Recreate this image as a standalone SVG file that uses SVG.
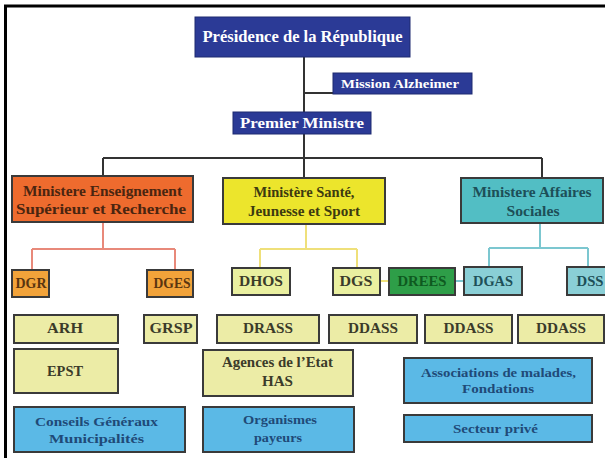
<svg xmlns="http://www.w3.org/2000/svg" width="605" height="458" viewBox="0 0 605 458">
<style>
text{font-family:"Liberation Serif","Times New Roman",serif;font-weight:bold;text-anchor:middle}
.b{stroke:#3a3a3a;stroke-width:2}
.blue{fill:#2B3A96;stroke:#1e2a70;stroke-width:1}
.w{fill:#fff}
.t{font-size:14px}
.s{font-size:14px}
.m{font-size:13.5px}
.kh{fill:#ECECA6}
.sky{fill:#5BB9E6}
.dk{fill:#3b3b2a}
.bt{fill:#1f4a78}
.c{fill:none}
</style>
<rect width="605" height="458" fill="#fff"/>
<rect x="5.5" y="6" width="700" height="600" fill="none" stroke="#000" stroke-width="3"/>
<g id="connectors" class="c">
<path d="M304 57V112M304 93H333M304 134V158M103 158H542M103 158V176M304 158V178M542 158V178" stroke="#333" stroke-width="2"/>
<path d="M103 222V249M32 249H175M32 249V270M175 249V270" stroke="#E8897A" stroke-width="2"/>
<path d="M306 224V249M260 249H357M260 249V268M357 249V268M380 281H389" stroke="#EFE07A" stroke-width="2"/>
<path d="M540 223V248M489 248H588M489 248V267M588 248V267M455 281H464" stroke="#7CC7D0" stroke-width="2"/>
</g>
<g id="presidence"><rect x="195" y="17" width="215" height="40" class="blue"/><text x="302.5" y="42" class="w" font-size="16.5" textLength="200" lengthAdjust="spacingAndGlyphs">Présidence de la République</text></g>
<g id="mission"><rect x="333" y="73" width="139" height="21" class="blue"/><text x="400" y="88" class="w" font-size="13" textLength="118" lengthAdjust="spacingAndGlyphs">Mission Alzheimer</text></g>
<g id="premier"><rect x="233" y="112" width="138" height="22" class="blue"/><text x="302" y="128" class="w" font-size="14" textLength="124" lengthAdjust="spacingAndGlyphs">Premier Ministre</text></g>
<g id="min-ens"><rect x="12" y="176" width="181" height="46" fill="#EE6B2E" class="b"/><text x="102.5" y="196" class="t" fill="#4a2510" textLength="159" lengthAdjust="spacingAndGlyphs">Ministere Enseignement</text><text x="101" y="214" class="t" fill="#4a2510" textLength="170" lengthAdjust="spacingAndGlyphs">Supérieur et Recherche</text></g>
<g id="min-sante"><rect x="223" y="178" width="162" height="46" fill="#ECE52C" class="b"/><text x="304" y="197" class="t" fill="#3d3a10" textLength="101" lengthAdjust="spacingAndGlyphs">Ministère Santé,</text><text x="304" y="216" class="t" fill="#3d3a10" textLength="112" lengthAdjust="spacingAndGlyphs">Jeunesse et Sport</text></g>
<g id="min-aff"><rect x="461" y="178" width="142" height="45" fill="#52BEC4" class="b"/><text x="532" y="197" class="t" fill="#1d4f58" textLength="119" lengthAdjust="spacingAndGlyphs">Ministere Affaires</text><text x="533" y="216" class="t" fill="#1d4f58" textLength="53" lengthAdjust="spacingAndGlyphs">Sociales</text></g>
<g id="dgr"><rect x="12" y="270" width="37" height="27" fill="#F2A33A" class="b"/><text x="31" y="288" class="s" fill="#5a3510" textLength="31" lengthAdjust="spacingAndGlyphs">DGR</text></g>
<g id="dges"><rect x="147" y="270" width="46" height="27" fill="#F2A33A" class="b"/><text x="172" y="288" class="s" fill="#5a3510" textLength="37" lengthAdjust="spacingAndGlyphs">DGES</text></g>
<g id="dhos"><rect x="232" y="268" width="58" height="27" fill="#EAF0A0" class="b"/><text x="261" y="286" class="s" fill="#3b3b2a" textLength="44" lengthAdjust="spacingAndGlyphs">DHOS</text></g>
<g id="dgs"><rect x="333" y="268" width="47" height="27" fill="#EAF0A0" class="b"/><text x="356" y="286" class="s" fill="#3b3b2a" textLength="33" lengthAdjust="spacingAndGlyphs">DGS</text></g>
<g id="drees"><rect x="389" y="268" width="66" height="27" fill="#2E9E48" class="b"/><text x="422" y="286" class="s" fill="#0e5a20" textLength="49" lengthAdjust="spacingAndGlyphs">DREES</text></g>
<g id="dgas"><rect x="464" y="267" width="58" height="28" fill="#8ACFD6" class="b"/><text x="493" y="286" class="s" fill="#1d4f58" textLength="40" lengthAdjust="spacingAndGlyphs">DGAS</text></g>
<g id="dss"><rect x="567" y="267" width="42" height="28" fill="#8ACFD6" class="b"/><text x="590" y="286" class="s" fill="#1d4f58" textLength="27" lengthAdjust="spacingAndGlyphs">DSS</text></g>
<g id="arh"><rect x="14" y="315" width="104" height="28" class="kh b"/><text x="65" y="333" class="s dk" textLength="36" lengthAdjust="spacingAndGlyphs">ARH</text></g>
<g id="grsp"><rect x="144" y="315" width="53" height="28" class="kh b"/><text x="171" y="333" class="s dk" textLength="43" lengthAdjust="spacingAndGlyphs">GRSP</text></g>
<g id="drass"><rect x="217" y="315" width="102" height="28" class="kh b"/><text x="268" y="333" class="s dk" textLength="50" lengthAdjust="spacingAndGlyphs">DRASS</text></g>
<g id="ddass1"><rect x="329" y="315" width="88" height="28" class="kh b"/><text x="373" y="333" class="s dk" textLength="50" lengthAdjust="spacingAndGlyphs">DDASS</text></g>
<g id="ddass2"><rect x="425" y="315" width="87" height="28" class="kh b"/><text x="468.5" y="333" class="s dk" textLength="50" lengthAdjust="spacingAndGlyphs">DDASS</text></g>
<g id="ddass3"><rect x="518" y="315" width="86" height="28" class="kh b"/><text x="561" y="333" class="s dk" textLength="50" lengthAdjust="spacingAndGlyphs">DDASS</text></g>
<g id="epst"><rect x="14" y="349" width="104" height="44" class="kh b"/><text x="65" y="376" class="s dk" textLength="36" lengthAdjust="spacingAndGlyphs">EPST</text></g>
<g id="agences"><rect x="203" y="350" width="150" height="46" class="kh b"/><text x="277.5" y="367" class="s dk" textLength="111" lengthAdjust="spacingAndGlyphs">Agences de l’Etat</text><text x="277.5" y="386" class="s dk" textLength="31" lengthAdjust="spacingAndGlyphs">HAS</text></g>
<g id="associations"><rect x="404" y="358" width="188" height="45" class="sky b"/><text x="498.5" y="377" class="m bt" textLength="155" lengthAdjust="spacingAndGlyphs">Associations de malades,</text><text x="498" y="393" class="m bt" textLength="72" lengthAdjust="spacingAndGlyphs">Fondations</text></g>
<g id="conseils"><rect x="14" y="407" width="171" height="45" class="sky b"/><text x="96.5" y="426" class="m bt" textLength="123" lengthAdjust="spacingAndGlyphs">Conseils Généraux</text><text x="96.5" y="443" class="m bt" textLength="95" lengthAdjust="spacingAndGlyphs">Municipalités</text></g>
<g id="organismes"><rect x="203" y="407" width="151" height="45" class="sky b"/><text x="280" y="424" class="m bt" textLength="74" lengthAdjust="spacingAndGlyphs">Organismes</text><text x="278" y="442" class="m bt" textLength="48" lengthAdjust="spacingAndGlyphs">payeurs</text></g>
<g id="secteur"><rect x="404" y="415" width="188" height="27" class="sky b"/><text x="495.5" y="433" class="m bt" textLength="85" lengthAdjust="spacingAndGlyphs">Secteur privé</text></g>
</svg>
